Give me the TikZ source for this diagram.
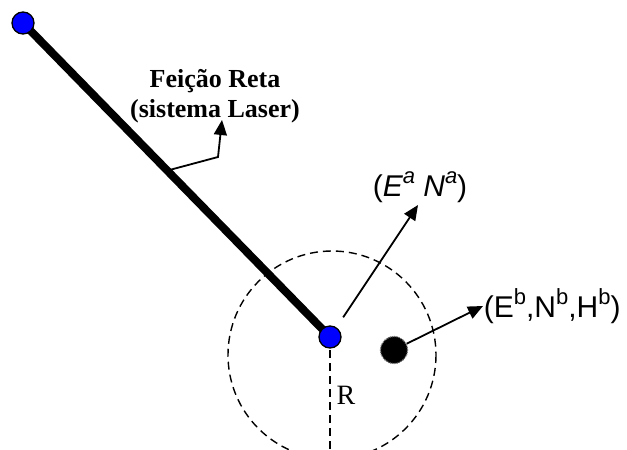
\documentclass[tikz,border=0pt]{standalone}
\usepackage{fontspec}
\setmainfont{Liberation Serif}
\setsansfont{Liberation Sans}
\usetikzlibrary{arrows.meta,calc}
\newcommand{\sobre}[1]{\raisebox{0.45em}{\fontsize{22}{24}\selectfont #1}}
\begin{document}
\begin{tikzpicture}[x=1pt,y=-1pt,>={Triangle[length=15pt,width=13pt]},line width=1.8pt]
  \tikzstyle{ponto}=[circle, draw=black, fill=blue, line width=1.3pt, minimum size=22pt, inner sep=0pt]
  \tikzstyle{alvo}=[circle, draw=black!55, fill=black, densely dotted, line width=1.2pt, minimum size=27pt, inner sep=0pt]
  \tikzstyle{tracejado}=[dash pattern=on 8pt off 5pt, line width=1.4pt]
  \tikzstyle{coord}=[font=\sffamily\fontsize{30}{34}\selectfont, inner sep=0pt]

  \useasboundingbox (0,0) rectangle (627,450);

  \coordinate (pa) at (23,23);
  \coordinate (pb) at (330,337);
  \draw[line width=8pt] (pa) -- (pb);

  \draw[tracejado] (332,355) circle (104);
  \coordinate (base) at (330,450);
  \draw[tracejado] (pb) -- (base);

  \node[ponto] (a) at (pa) {};
  \node[ponto] (b) at (pb) {};
  \node[alvo] (t) at (394,350) {};

  \node[font=\bfseries\fontsize{26}{30}\selectfont, align=center, inner sep=0pt] (lf) at (215,96)
    {Feição Reta\\(sistema Laser)};
  \coordinate (dobra) at (218,157);
  \coordinate (pontaf) at (222,120);
  \draw[->] ($(a)!0.47!(b)$) -- (dobra) -- (pontaf);

  \node[font=\fontsize{28}{30}\selectfont, inner sep=0pt] (r) at (346,395) {R};

  \node[coord] (la) at (420,187) {(\textit{E\sobre{a} N\sobre{a}})};
  \coordinate (pontaa) at (418,205);
  \draw[->, shorten <=12pt] (b) -- (pontaa);

  \node[coord, anchor=west] (lb) at (483,306) {(E\sobre{b},N\sobre{b},H\sobre{b})};
  \draw[->] (t) -- (lb.west);
\end{tikzpicture}
\end{document}
